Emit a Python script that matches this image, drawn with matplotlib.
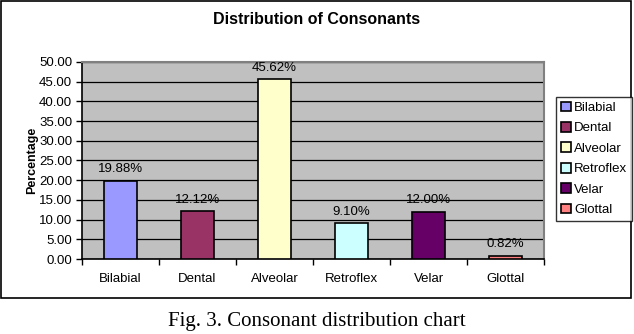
import numpy as np
import matplotlib.pyplot as plt
from matplotlib.patches import Rectangle, Patch

plt.rcParams['font.family'] = ['Liberation Sans', 'DejaVu Sans']

# data
categories = ['Bilabial', 'Dental', 'Alveolar', 'Retroflex', 'Velar', 'Glottal']
percentages = [19.88, 12.12, 45.62, 9.10, 12.00, 0.82]
colors = ['#9999FF', '#993366', '#FFFFCC', '#CCFFFF', '#660066', '#FF8080']

W, H = 634, 334
fs = 9.5
fig = plt.figure(figsize=(W / 100, H / 100), dpi=100)
fig.patch.set_facecolor('white')

# outer chart border
fig.patches.append(Rectangle((0.8 / W, 1 - 298 / H), 630 / W, 297 / H,
                             transform=fig.transFigure, fill=False,
                             edgecolor='black', linewidth=1.2))

ax = fig.add_axes([82 / W, 1 - 259 / H, 462 / W, 197 / H])
ax.set_facecolor('#C0C0C0')

x = np.arange(len(categories))
ax.bar(x, percentages, width=0.42, color=colors, edgecolor='black',
       linewidth=1.2, zorder=3)

for xi, v in zip(x, percentages):
    ax.annotate(f"{v:.2f}%", (xi, v), xytext=(0, 4), textcoords='offset points',
                ha='center', va='bottom', fontsize=fs)

ax.set_ylim(0, 50)
ax.set_yticks(np.arange(0, 51, 5))
ax.set_yticklabels([f"{t:.2f}" for t in np.arange(0, 51, 5)], fontsize=fs)
ax.yaxis.grid(True, color='black', linewidth=0.9, zorder=0)
ax.set_axisbelow(True)

ax.set_xlim(-0.5, 5.5)
ax.set_xticks(np.arange(-0.5, 6, 1))
ax.set_xticklabels([])
ax.set_xticks(x, minor=True)
ax.set_xticklabels(categories, minor=True, fontsize=fs)
ax.tick_params(axis='x', which='major', direction='out', length=4, width=1)
ax.tick_params(axis='x', which='minor', length=0, pad=10)
ax.tick_params(axis='y', direction='out', length=4, width=1, pad=3)

ax.spines['left'].set_color('black')
ax.spines['bottom'].set_color('black')
ax.spines['left'].set_linewidth(1.2)
ax.spines['bottom'].set_linewidth(1.2)
for s in ['top', 'right']:
    ax.spines[s].set_color('#808080')
    ax.spines[s].set_linewidth(1.5)

ax.set_ylabel('Percentage', fontsize=9, fontweight='bold', labelpad=1)

fig.text(317 / W, 1 - 20 / H, 'Distribution of Consonants', ha='center',
         va='center', fontsize=11.5, fontweight='bold')

handles = [Patch(facecolor=c, edgecolor='black', linewidth=1.2) for c in colors]
leg = fig.legend(handles, categories, loc='upper left',
                 bbox_to_anchor=(556 / W, 1 - 97 / H), borderaxespad=0,
                 fontsize=fs, handlelength=0.76, handleheight=0.76,
                 handletextpad=0.25, labelspacing=0.6, borderpad=0.35,
                 fancybox=False, frameon=True)
leg.get_frame().set_edgecolor('black')
leg.get_frame().set_linewidth(1.0)

# caption under the chart (cropped in the source; kept fully visible here)
fig.text(317 / W, 1 - 312 / H, 'Fig. 3. Consonant distribution chart',
         ha='center', va='top', fontsize=15, family=['Liberation Serif', 'DejaVu Serif'])

plt.savefig('out.png', dpi=100)
